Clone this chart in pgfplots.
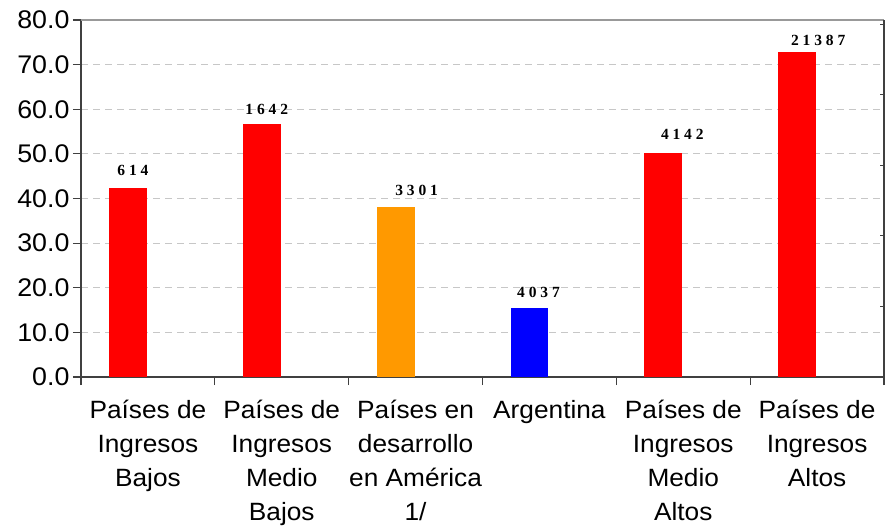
\documentclass[border=0pt]{standalone}
\usepackage{fontspec}
\setmainfont{Liberation Sans}[FakeStretch=1.05]
\newfontfamily\vfont{Liberation Serif}
\usepackage{pgfplots}
\pgfplotsset{compat=1.18}
\definecolor{barred}{RGB}{255,0,0}
\definecolor{barorange}{RGB}{255,153,0}
\definecolor{barblue}{RGB}{0,0,255}
\begin{document}
\begin{tikzpicture}
\path[use as bounding box] (-81pt,-150pt) rectangle (807pt,377pt);
\begin{axis}[
  at={(0pt,0pt)}, anchor=south west,
  scale only axis, width=803pt, height=357pt,
  xmin=-0.5, xmax=5.5, ymin=0, ymax=80,
  axis x line*=bottom, axis y line*=left,
  axis line style={-, draw=black!75, line width=1.2pt},
  ytick={0,10,...,80},
  yticklabel style={font=\fontsize{25.5}{30}\selectfont,
    /pgf/number format/fixed, /pgf/number format/fixed zerofill,
    /pgf/number format/precision=1},
  /pgf/number format/assume math mode=true,
  ymajorgrids,
  grid style={dash pattern=on 7pt off 5pt, draw=black!22, line width=1pt},
  xtick={-0.5,0.5,...,5.5}, xticklabels={},
  extra x ticks={0,1,2,3,4,5},
  extra x tick labels={Países de\\Ingresos\\Bajos, Países de\\Ingresos\\Medio\\Bajos, Países en\\desarrollo\\en América\\1/, Argentina, Países de\\Ingresos\\Medio\\Altos, Países de\\Ingresos\\Altos},
  extra x tick style={major tick length=0pt, xmajorgrids=false,
    tick label style={align=center, font=\fontsize{25}{34}\selectfont, yshift=-20pt}},
  tick align=outside, major tick length=8pt,
  tick style={draw=black!75, line width=1.2pt},
  ybar, bar shift=0pt, bar width=0.283,
  nodes near coords, point meta=explicit symbolic,
  nodes near coords style={font=\vfont\bfseries\fontsize{15.5}{15.5}\selectfont, anchor=south, text=black, inner sep=0pt},
  clip=false,
]
\addplot[fill=barred, draw=none, nodes near coords style={xshift=5pt, yshift=12pt}] coordinates {(-0.149,42.3) [6 1 4]};
\addplot[fill=barred, draw=none, nodes near coords style={xshift=5pt, yshift=9pt}] coordinates {(0.851,56.7) [1 6 4 2]};
\addplot[fill=barorange, draw=none, nodes near coords style={xshift=21pt, yshift=11pt}] coordinates {(1.851,38.2) [3 3 0 1]};
\addplot[fill=barblue, draw=none, nodes near coords style={xshift=9pt, yshift=10pt}] coordinates {(2.851,15.5) [4 0 3 7]};
\addplot[fill=barred, draw=none, nodes near coords style={xshift=19pt, yshift=13pt}] coordinates {(3.851,50.2) [4 1 4 2]};
\addplot[fill=barred, draw=none, nodes near coords style={xshift=21pt, yshift=6pt}] coordinates {(4.851,72.8) [2 1 3 8 7]};
\draw[black!40, line width=1.2pt] (rel axis cs:0,1) -- (rel axis cs:1,1);
\end{axis}
\begin{axis}[
  at={(0pt,0pt)}, anchor=south west,
  scale only axis, width=803pt, height=357pt,
  xmin=0, xmax=1, ymin=0, ymax=5.06,
  axis y line*=right, axis x line=none,
  ytick={0,1,...,5}, yticklabels={},
  axis line style={-, draw=black!75, line width=1.2pt},
  tick style={draw=black!75, line width=1.2pt},
  tick align=inside, major tick length=4pt,
]
\end{axis}
\end{tikzpicture}
\end{document}
